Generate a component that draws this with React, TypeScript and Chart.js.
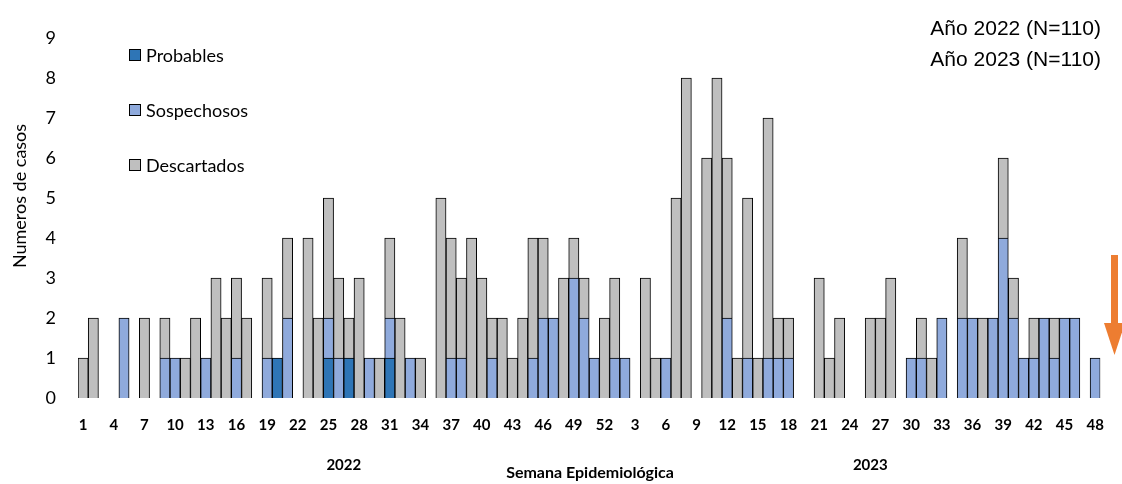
import React, { useEffect, useRef } from "react";
import { Chart, registerables } from "chart.js";
Chart.register(...registerables);

const weeks2022 = Array.from({ length: 52 }, (_, i) => String(i + 1));
const weeks2023 = Array.from({ length: 48 }, (_, i) => String(i + 1));
const labels = [...weeks2022, ...weeks2023];

// 2022 weeks 1..52
const probables2022 = [0,0,0,0,0,0,0,0,0,0, 0,0,0,0,0,0,0,0,0,1, 0,0,0,0,1,0,1,0,0,0, 1,0,0,0,0,0,0,0,0,0, 0,0,0,0,0,0,0,0,0,0, 0,0];
const sospechosos2022 = [0,0,0,0,2,0,0,0,1,1, 0,0,1,0,0,1,0,0,1,0, 2,0,0,0,1,1,0,0,1,0, 1,0,1,0,0,0,1,1,0,0, 1,0,0,0,1,2,2,0,3,2, 1,0];
const descartados2022 = [1,2,0,0,0,0,2,0,1,0, 1,2,0,3,2,2,2,0,2,0, 2,0,4,2,3,2,1,3,0,1, 2,2,0,1,0,5,3,2,4,3, 1,2,1,2,3,2,0,3,1,1, 0,2];
// 2023 weeks 1..48
const probables2023 = [0,0,0,0,0,0,0,0,0,0, 0,0,0,0,0,0,0,0,0,0, 0,0,0,0,0,0,0,0,0,0, 0,0,0,0,0,0,0,0,0,0, 0,0,0,0,0,0,0,0];
const sospechosos2023 = [1,1,0,0,0,1,0,0,0,0, 0,2,0,1,0,1,1,1,0,0, 0,0,0,0,0,0,0,0,0,1, 1,0,2,0,2,2,0,2,4,2, 1,1,2,1,2,2,0,1];
const descartados2023 = [2,0,0,3,1,0,5,8,0,6, 8,4,1,4,1,6,1,1,0,0, 3,1,2,0,0,2,2,3,0,0, 1,1,0,0,2,0,2,0,2,1, 0,1,0,1,0,0,0,0];

const yTicks = [0,1,2,3,4,5,6,7,8,9];
const legendItems = ["Probables", "Sospechosos", "Descartados"];
const colors = ["#2E75B6", "#8FAADC", "#BFBFBF"];
const headerLines = ["Año 2022 (N=110)", "Año 2023 (N=110)"];

export default function App() {
  const ref = useRef<HTMLCanvasElement>(null);
  useEffect(() => {
    const series = [
      [...probables2022, ...probables2023],
      [...sospechosos2022, ...sospechosos2023],
      [...descartados2022, ...descartados2023],
    ];
    const overlay = {
      id: "overlay",
      afterDraw(chart: any) {
        const ctx = chart.ctx;
        const xs = chart.scales.x;
        ctx.save();
        ctx.fillStyle = "#000";
        ctx.font = "18px Lato, 'Open Sans', sans-serif";
        ctx.textAlign = "center";
        ctx.textBaseline = "middle";
        ctx.save();
        ctx.translate(20, 196);
        ctx.rotate(-Math.PI / 2);
        ctx.fillText("Numeros de casos", 0, 0);
        ctx.restore();
        ctx.font = "18px Lato, 'Open Sans', sans-serif";
        ctx.textAlign = "left";
        legendItems.forEach((t, i) => {
          const y = 55 + i * 55;
          ctx.fillStyle = colors[i];
          ctx.fillRect(129, y - 6, 12, 12);
          ctx.strokeStyle = "#000";
          ctx.lineWidth = 1;
          ctx.strokeRect(129.5, y - 5.5, 11, 11);
          ctx.fillStyle = "#000";
          ctx.fillText(t, 146, y + 1);
        });
        ctx.font = "21px 'Liberation Sans', Arial, sans-serif";
        ctx.textAlign = "right";
        headerLines.forEach((t, i) => ctx.fillText(t, 1101, 29 + i * 31));
        ctx.font = "bold 15px Lato, 'Open Sans', sans-serif";
        ctx.textAlign = "center";
        ctx.fillText("2022", xs.getPixelForValue(25.5), 465);
        ctx.fillText("2023", xs.getPixelForValue(77), 465);
        ctx.font = "bold 16px Lato, 'Open Sans', sans-serif";
        ctx.fillText("Semana Epidemiológica", 590, 473);
        ctx.fillStyle = "#ED7D31";
        ctx.fillRect(1111, 255, 7, 70);
        ctx.beginPath();
        ctx.moveTo(1104, 323);
        ctx.lineTo(1125, 323);
        ctx.lineTo(1114.5, 355);
        ctx.closePath();
        ctx.fill();
        ctx.restore();
      },
    };
    const chart = new Chart(ref.current!, {
      type: "bar",
      data: {
        labels,
        datasets: legendItems.map((name, i) => ({
          label: name,
          data: series[i],
          backgroundColor: colors[i],
          borderColor: "#000",
          borderWidth: 1,
          barPercentage: 1,
          categoryPercentage: 1,
        })),
      },
      options: {
        animation: false,
        responsive: false,
        layout: { padding: { top: 38, right: 19, left: 0, bottom: 0 } },
        plugins: { legend: { display: false }, tooltip: { enabled: false } },
        scales: {
          x: {
            stacked: true,
            grid: { display: false, drawTicks: false },
            border: { display: false },
            afterFit(s: any) { s.height = 86; },
            ticks: {
              autoSkip: false,
              maxRotation: 0,
              padding: 18,
              color: "#000",
              font: { family: "Lato, 'Open Sans', sans-serif", size: 15, weight: "bold" },
              callback: (_v: any, i: number) => (i % 3 === 0 ? labels[i] : ""),
            },
          },
          y: {
            stacked: true,
            min: 0,
            max: 9,
            grid: { display: false, drawTicks: false },
            border: { display: false },
            afterFit(s: any) { s.width = 78; s.paddingTop = 0; },
            afterBuildTicks(s: any) { s.ticks = yTicks.map((v) => ({ value: v })); },
            ticks: {
              padding: 22,
              color: "#000",
              font: { family: "Lato, 'Open Sans', sans-serif", size: 18 },
            },
          },
        },
      },
      plugins: [overlay],
    });
    return () => chart.destroy();
  }, []);
  return (
    <div style={{ position: "fixed", left: 0, top: 0, width: 1122, height: 484, background: "#fff" }}>
      <canvas ref={ref} width={1122} height={484} style={{ width: 1122, height: 484 }} />
    </div>
  );
}
